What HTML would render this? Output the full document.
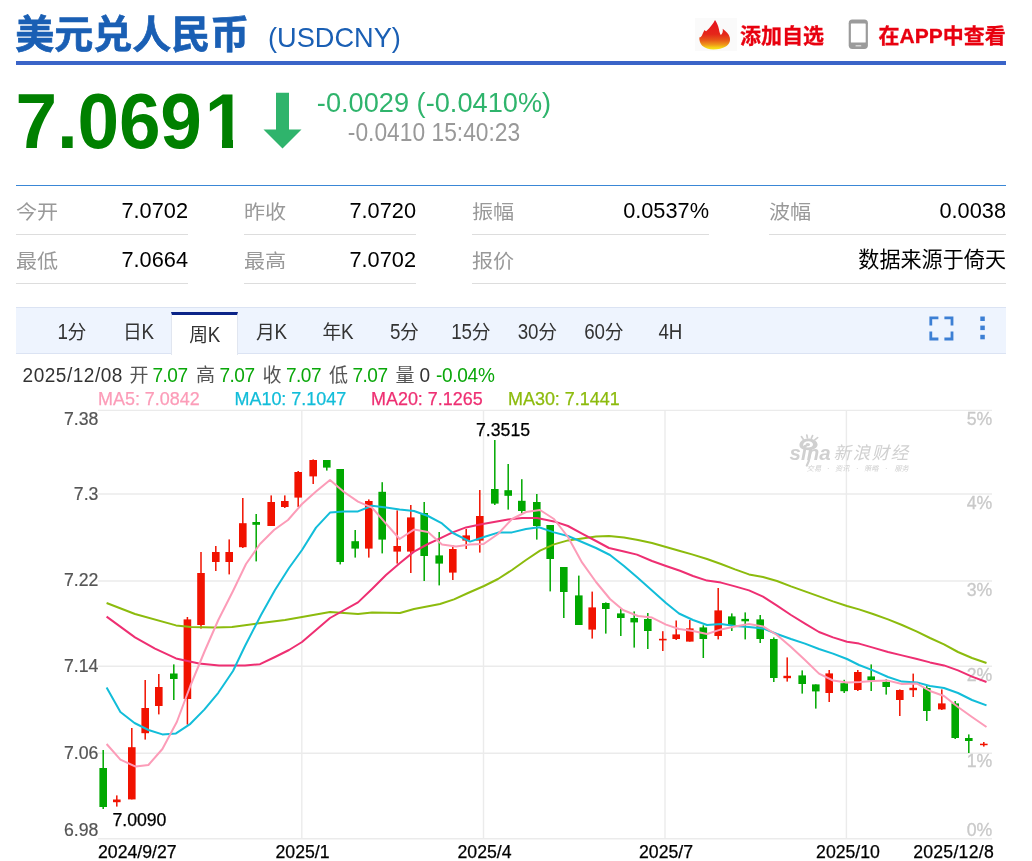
<!DOCTYPE html>
<html lang="zh-CN">
<head>
<meta charset="utf-8">
<title>美元兑人民币 (USDCNY)</title>
<style>
*{box-sizing:border-box;margin:0;padding:0}
html,body{width:1032px;height:861px;background:#fff;overflow:hidden}
body{position:relative;font-family:"Liberation Sans","Noto Sans CJK SC",sans-serif;color:#333}
.abs{position:absolute;white-space:nowrap}
.hd{position:absolute;left:16px;top:0;width:990px;height:65px;border-bottom:4px solid #3a64c8}
.title{left:15.3px;top:6.6px;font-size:39px;line-height:56px;font-weight:bold;color:#1a5fb4;-webkit-text-stroke:0.7px #1a5fb4}
.code{left:268px;top:18px;font-size:27.2px;line-height:40px;color:#1a5fb4}
.lnk{font-size:21px;line-height:30px;font-weight:bold;color:#e8000f;top:20.7px;-webkit-text-stroke:0.3px #e8000f}
.price{left:15.5px;top:79.5px;font-size:74.8px;line-height:84px;font-weight:bold;color:#008000;letter-spacing:-0.2px;transform:scaleY(1.036);transform-origin:0 69px}
.chg{left:284px;width:300px;text-align:center}
.chg1{top:86px;font-size:27.2px;line-height:32px;color:#2fb46c;transform:translateY(0.9px) scaleY(1.03);transform-origin:50% 25px}
.chg2{top:118.5px;font-size:22.8px;line-height:28px;color:#999;transform:scaleY(1.1);transform-origin:50% 22px}
.stats{position:absolute;left:16px;top:185px;width:990px;height:99px;border-top:1.4px solid #3a87d6}
.cell{position:absolute;height:49px;border-bottom:1.4px solid #ddd;font-size:21.76px;line-height:49px}
.cell .k,.cell .c{font-size:21.1px}
.cell .k{position:absolute;left:0;top:0.5px;color:#999;transform:scaleY(0.93);transform-origin:0 25px}
.cell .v{position:absolute;right:0;top:0;color:#000}
.tabs{position:absolute;left:16px;top:307px;width:990px;height:47px;background:#eef4fe;border-top:1px solid #dbe3f3;border-bottom:1px solid #dbe3f3}
.tab{position:absolute;top:0;width:66.5px;height:45px;text-align:center;font-size:18.8px;line-height:49px;color:#333;letter-spacing:-0.3px}
.tab b{display:inline-block;font-weight:normal;transform:scaleY(1.13);transform-origin:50% 31.5px}
.tab.on b{transform-origin:50% 28px}
.tab.on{top:4px;height:43px;width:67px;background:#fff;border-top:3.2px solid #0b2488;border-left:1px solid #e1e6f0;border-right:1px solid #e1e6f0;line-height:41.6px}
.info{font-size:19.04px;line-height:24px;top:363.5px;color:#555}
.info.g{color:#0aa70a}
.info.g,.info.d{transform:scaleY(1.09);transform-origin:0 18.5px}
.info.c{top:364.2px}
.info.d{color:#333}
.ma{font-size:17.95px;line-height:20px;top:388.5px;-webkit-text-stroke:0.25px currentColor}
.chart{position:absolute;left:0;top:0}
</style>
</head>
<body>
<div class="hd"></div>
<h1 class="abs title">美元兑人民币</h1>
<span class="abs code">(USDCNY)</span>
<svg class="abs" style="left:695px;top:18px" width="42" height="33" viewBox="0 0 42 33">
<defs><linearGradient id="fl" x1="0" y1="0" x2="0" y2="1"><stop offset="0" stop-color="#e6101e"/><stop offset="0.48" stop-color="#e5261a"/><stop offset="0.68" stop-color="#e75818"/><stop offset="0.84" stop-color="#f09a1a"/><stop offset="0.94" stop-color="#f5d616"/><stop offset="1" stop-color="#f7e21c"/></linearGradient></defs>
<rect x="0" y="0" width="42" height="33" fill="#fafafa"/>
<path d="M20,2 C21.800,4.500 23.200,7.500 23.900,11 C24.300,13.200 24.800,15.400 25.800,17 C27.400,16 28.200,13.600 27.700,10.800 C30.800,13.200 34.200,16.200 34.800,19.500 C35.200,21.500 35,23.200 34.400,24.600 C33.600,26.400 32.400,27.600 30.800,28.600 C27.600,30.600 23,31.600 18.300,31.600 C14,31.600 9.800,30.200 7.200,27.800 C5.200,25.800 4.200,22.800 4.300,19.600 C5.500,19.300 6.200,18.700 6.800,17.800 C7.700,15.800 8.500,13.800 9.500,12 C10,12.600 10.500,13 11.100,13.200 C12.200,12.300 13.200,11.300 14.200,10.300 C16.400,7.800 18.600,5 20,2 Z" fill="url(#fl)"/>
</svg>
<a class="abs lnk" style="left:740px">添加自选</a>
<svg class="abs" style="left:847px;top:18px" width="23" height="33" viewBox="0 0 23 33">
<rect x="1.700" y="1.600" width="19.200" height="29.300" rx="3.600" ry="3.600" fill="#9b9b9b"/>
<rect x="3.900" y="5.400" width="14.800" height="19.100" rx="0.600" fill="#fff"/>
<rect x="8.500" y="27" width="5.800" height="1.600" rx="0.600" fill="#d4d4d4"/>
</svg>
<a class="abs lnk" style="left:878.5px">在APP中查看</a>

<div class="abs price">7.069<span style="margin-left:3px">1</span></div>
<i class="abs" style="left:200px;top:139.2px;width:22px;height:11px;background:#fff"></i><i class="abs" style="left:233.3px;top:139.2px;width:14px;height:11px;background:#fff"></i>
<svg class="abs" style="left:262px;top:91.5px" width="41" height="58" viewBox="0 0 41 58">
<path d="M14,0.700 H27 V37.500 H39.500 L20.500,56.600 L1.500,37.500 H14 Z" fill="#2fb46c"/>
</svg>
<div class="abs chg chg1">-0.0029 (-0.0410%)</div>
<div class="abs chg chg2">-0.0410 15:40:23</div>

<div class="stats">
<div class="cell" style="left:0;top:0;width:172px"><span class="k">今开</span><span class="v">7.0702</span></div>
<div class="cell" style="left:228px;top:0;width:172px"><span class="k">昨收</span><span class="v">7.0720</span></div>
<div class="cell" style="left:456px;top:0;width:237px"><span class="k">振幅</span><span class="v">0.0537%</span></div>
<div class="cell" style="left:753px;top:0;width:237px"><span class="k">波幅</span><span class="v">0.0038</span></div>
<div class="cell" style="left:0;top:49px;width:172px"><span class="k">最低</span><span class="v">7.0664</span></div>
<div class="cell" style="left:228px;top:49px;width:172px"><span class="k">最高</span><span class="v">7.0702</span></div>
<div class="cell" style="left:456px;top:49px;width:534px"><span class="k">报价</span><span class="v c">数据来源于倚天</span></div>
</div>

<div class="tabs">
<div class="tab" style="left:22.5px"><b>1</b>分</div>
<div class="tab" style="left:89px">日<b>K</b></div>
<div class="tab on" style="left:155px">周<b>K</b></div>
<div class="tab" style="left:222px">月<b>K</b></div>
<div class="tab" style="left:288.5px">年<b>K</b></div>
<div class="tab" style="left:355px"><b>5</b>分</div>
<div class="tab" style="left:421.5px"><b>15</b>分</div>
<div class="tab" style="left:488px"><b>30</b>分</div>
<div class="tab" style="left:554.5px"><b>60</b>分</div>
<div class="tab" style="left:621px"><b>4H</b></div>
<svg class="abs" style="left:913px;top:8.4px" width="60" height="26" viewBox="0 0 60 26">
<g fill="none" stroke="#3c7fd4" stroke-width="2.8">
<path d="M1.800,9.400 V1.800 H9.400"/><path d="M15.400,1.800 H23 V9.400"/><path d="M23,15.400 V23 H15.400"/><path d="M9.400,23 H1.800 V15.400"/>
</g>
<g fill="#3c7fd4"><rect x="51.300" y="0.500" width="4.500" height="4.500"/><rect x="51.300" y="9.600" width="4.500" height="4.500"/><rect x="51.300" y="18.800" width="4.500" height="4.500"/></g>
</svg>
</div>

<span class="abs info d" style="left:22.6px;letter-spacing:0.5px">2025/12/08</span>
<span class="abs info c" style="left:129.5px">开</span><span class="abs info g" style="left:152.5px;letter-spacing:-0.5px">7.07</span>
<span class="abs info c" style="left:196px">高</span><span class="abs info g" style="left:219.5px;letter-spacing:-0.5px">7.07</span>
<span class="abs info c" style="left:262.5px">收</span><span class="abs info g" style="left:286px;letter-spacing:-0.5px">7.07</span>
<span class="abs info c" style="left:329px">低</span><span class="abs info g" style="left:352.5px;letter-spacing:-0.5px">7.07</span>
<span class="abs info c" style="left:395.5px">量</span><span class="abs info d" style="left:419.5px">0</span>
<span class="abs info g" style="left:436px;letter-spacing:-0.3px">-0.04%</span>

<span class="abs ma" style="left:98px;color:#fc9cb8">MA5: 7.0842</span>
<span class="abs ma" style="left:234.5px;color:#12bdd9">MA10: 7.1047</span>
<span class="abs ma" style="left:371px;color:#ee2f72">MA20: 7.1265</span>
<span class="abs ma" style="left:508px;color:#8cbb0d">MA30: 7.1441</span>

<svg class="chart" width="1032" height="861" viewBox="0 0 1032 861">
<g stroke="#ebebeb" stroke-width="1.4" fill="none">
<line x1="98" y1="410.35" x2="992" y2="410.35"/>
<line x1="98" y1="494.0" x2="992" y2="494.0"/>
<line x1="98" y1="581.0" x2="992" y2="581.0"/>
<line x1="98" y1="666.3" x2="992" y2="666.3"/>
<line x1="98" y1="753.3" x2="992" y2="753.3"/>
<line x1="98" y1="838.7" x2="992" y2="838.7"/>
<line x1="301.8" y1="410.3" x2="301.8" y2="838.7"/>
<line x1="483.5" y1="410.3" x2="483.5" y2="838.7"/>
<line x1="665.0" y1="410.3" x2="665.0" y2="838.7"/>
<line x1="846.4" y1="410.3" x2="846.4" y2="838.7"/>
</g>
<g class="wm" fill="#d0d0d0"><g transform="translate(798,435)"><path d="M10.2,3.4 C15.4,3.4 19.6,6 19.6,9.6 C19.6,13 15.6,15.2 10.4,15.2 C5.2,15.2 1.4,13.4 1.4,10 C1.4,6.4 5.2,3.4 10.2,3.4 Z M10.4,6.2 C7.4,6.2 5.2,7.8 5.2,9.8 C5.2,11.6 7.2,12.6 10,12.600 C12.800,12.600 15,11.400 15,9.600 C15,7.600 13,6.200 10.400,6.200 Z" fill-rule="evenodd"/><ellipse cx="9.8" cy="9.6" rx="2.3" ry="1.7"/><path d="M5.4,4.4 L3.4,1.6 M9.4,3 L8.8,0 M13.4,3.2 L14.6,0.6 M16.8,4.8 L19.6,2.6" stroke="#d0d0d0" stroke-width="1.7" fill="none" stroke-linecap="round"/><path d="M13.2,15 L10.6,26.500 L8.800,30.600" stroke="#d0d0d0" stroke-width="2.2" fill="none" stroke-linecap="round"/></g><text x="789.6" y="460" font-family="'Liberation Sans',sans-serif" font-size="20" font-weight="bold" font-style="italic" textLength="41" lengthAdjust="spacingAndGlyphs">sina</text><text x="833.6" y="459.4" font-family="'Liberation Sans','Noto Sans CJK SC',sans-serif" font-size="17.4" font-style="italic" letter-spacing="1.7">新浪财经</text><g font-family="'Liberation Sans','Noto Sans CJK SC',sans-serif" font-size="7.2" font-style="italic"><text x="806.8" y="470.6">交易</text><text x="827" y="470.6">·</text><text x="835" y="470.6">资讯</text><text x="856" y="470.6">·</text><text x="864" y="470.6">策略</text><text x="885" y="470.6">·</text><text x="894.4" y="470.6">服务</text></g></g>
<g font-family="'Liberation Sans',sans-serif" font-size="17.68">
<g fill="#555" stroke="#555" stroke-width="0.2" text-anchor="end">
<text x="98.4" y="425.0">7.38</text>
<text x="98.4" y="500.0">7.3</text>
<text x="98.4" y="586.2">7.22</text>
<text x="98.4" y="672.0">7.14</text>
<text x="98.4" y="759.0">7.06</text>
<text x="98.4" y="836.3">6.98</text>
</g>
<g fill="#c9c9c9" stroke="#c9c9c9" stroke-width="0.3" text-anchor="end">
<text x="992.2" y="425.1">5%</text>
<text x="992.2" y="508.9">4%</text>
<text x="992.2" y="595.9">3%</text>
<text x="992.2" y="681.3">2%</text>
<text x="992.2" y="767.2">1%</text>
<text x="992.2" y="835.6">0%</text>
</g>
<g fill="#000" stroke="#000" stroke-width="0.25">
<text x="98" y="858.4">2024/9/27</text>
<text x="302.5" y="858.4" text-anchor="middle">2025/1</text>
<text x="484.5" y="858.4" text-anchor="middle">2025/4</text>
<text x="666" y="858.4" text-anchor="middle">2025/7</text>
<text x="848" y="858.4" text-anchor="middle">2025/10</text>
<text x="994" y="858.4" text-anchor="end" letter-spacing="0.25">2025/12/8</text>
<text x="476" y="435.8">7.3515</text>
<text x="112.4" y="826">7.0090</text>
</g>
</g>
<g fill="#00a800"><rect x="102.45" y="750.0" width="1.5" height="59.0"/><rect x="99.40" y="768.0" width="7.6" height="39.0"/></g>
<g fill="#f11200"><rect x="116.05" y="795.4" width="1.5" height="11.2"/><rect x="113.00" y="799.5" width="7.6" height="2.7"/></g>
<g fill="#f11200"><rect x="131.05" y="728.0" width="1.5" height="71.4"/><rect x="128.00" y="747.2" width="7.6" height="52.2"/></g>
<g fill="#f11200"><rect x="144.45" y="680.0" width="1.5" height="59.6"/><rect x="141.40" y="708.0" width="7.6" height="25.2"/></g>
<g fill="#f11200"><rect x="158.05" y="674.0" width="1.5" height="40.4"/><rect x="155.00" y="687.0" width="7.6" height="19.0"/></g>
<g fill="#00a800"><rect x="173.05" y="664.4" width="1.5" height="35.6"/><rect x="170.00" y="673.5" width="7.6" height="5.5"/></g>
<g fill="#f11200"><rect x="186.65" y="617.0" width="1.5" height="107.6"/><rect x="183.60" y="619.4" width="7.6" height="79.6"/></g>
<g fill="#f11200"><rect x="200.25" y="552.0" width="1.5" height="76.6"/><rect x="197.20" y="573.0" width="7.6" height="52.0"/></g>
<g fill="#f11200"><rect x="215.05" y="546.0" width="1.5" height="25.0"/><rect x="212.00" y="552.0" width="7.6" height="10.0"/></g>
<g fill="#f11200"><rect x="228.45" y="539.4" width="1.5" height="35.0"/><rect x="225.40" y="552.0" width="7.6" height="10.0"/></g>
<g fill="#f11200"><rect x="242.05" y="498.0" width="1.5" height="50.0"/><rect x="239.00" y="523.2" width="7.6" height="24.0"/></g>
<g fill="#00a800"><rect x="255.45" y="514.0" width="1.5" height="47.4"/><rect x="252.40" y="522.0" width="7.6" height="2.8"/></g>
<g fill="#f11200"><rect x="270.45" y="495.4" width="1.5" height="30.6"/><rect x="267.40" y="502.0" width="7.6" height="24.0"/></g>
<g fill="#f11200"><rect x="284.05" y="495.4" width="1.5" height="12.6"/><rect x="281.00" y="501.0" width="7.6" height="6.0"/></g>
<g fill="#f11200"><rect x="297.45" y="471.0" width="1.5" height="36.0"/><rect x="294.40" y="472.0" width="7.6" height="25.6"/></g>
<g fill="#f11200"><rect x="312.45" y="459.4" width="1.5" height="24.6"/><rect x="309.40" y="460.0" width="7.6" height="16.4"/></g>
<g fill="#00a800"><rect x="326.05" y="460.0" width="1.5" height="10.6"/><rect x="323.00" y="460.0" width="7.6" height="7.6"/></g>
<g fill="#00a800"><rect x="339.45" y="469.0" width="1.5" height="95.4"/><rect x="336.40" y="469.0" width="7.6" height="93.0"/></g>
<g fill="#00a800"><rect x="354.45" y="530.0" width="1.5" height="27.6"/><rect x="351.40" y="541.2" width="7.6" height="7.4"/></g>
<g fill="#f11200"><rect x="368.05" y="499.4" width="1.5" height="58.2"/><rect x="365.00" y="501.0" width="7.6" height="47.6"/></g>
<g fill="#00a800"><rect x="381.45" y="482.2" width="1.5" height="71.2"/><rect x="378.40" y="491.8" width="7.6" height="47.8"/></g>
<g fill="#f11200"><rect x="396.45" y="510.4" width="1.5" height="53.2"/><rect x="393.40" y="546.0" width="7.6" height="5.6"/></g>
<g fill="#f11200"><rect x="410.05" y="505.0" width="1.5" height="68.0"/><rect x="407.00" y="517.4" width="7.6" height="34.2"/></g>
<g fill="#00a800"><rect x="423.45" y="502.0" width="1.5" height="79.0"/><rect x="420.40" y="513.0" width="7.6" height="43.0"/></g>
<g fill="#00a800"><rect x="438.45" y="532.0" width="1.5" height="53.4"/><rect x="435.40" y="555.4" width="7.6" height="8.2"/></g>
<g fill="#f11200"><rect x="452.05" y="545.0" width="1.5" height="35.0"/><rect x="449.00" y="549.0" width="7.6" height="23.6"/></g>
<g fill="#f11200"><rect x="465.45" y="529.0" width="1.5" height="20.0"/><rect x="462.40" y="535.4" width="7.6" height="5.2"/></g>
<g fill="#f11200"><rect x="479.05" y="490.0" width="1.5" height="62.6"/><rect x="476.00" y="516.0" width="7.6" height="24.6"/></g>
<g fill="#00a800"><rect x="494.05" y="440.0" width="1.5" height="65.0"/><rect x="491.00" y="489.0" width="7.6" height="14.6"/></g>
<g fill="#00a800"><rect x="507.45" y="464.0" width="1.5" height="45.6"/><rect x="504.40" y="490.2" width="7.6" height="5.6"/></g>
<g fill="#00a800"><rect x="521.05" y="479.2" width="1.5" height="34.2"/><rect x="518.00" y="500.8" width="7.6" height="10.2"/></g>
<g fill="#00a800"><rect x="536.05" y="494.0" width="1.5" height="45.6"/><rect x="533.00" y="502.0" width="7.6" height="24.0"/></g>
<g fill="#00a800"><rect x="549.45" y="525.0" width="1.5" height="66.4"/><rect x="546.40" y="525.0" width="7.6" height="34.0"/></g>
<g fill="#00a800"><rect x="563.05" y="567.0" width="1.5" height="51.0"/><rect x="560.00" y="567.0" width="7.6" height="25.0"/></g>
<g fill="#00a800"><rect x="578.05" y="575.6" width="1.5" height="49.4"/><rect x="575.00" y="595.4" width="7.6" height="29.6"/></g>
<g fill="#f11200"><rect x="591.45" y="591.6" width="1.5" height="47.0"/><rect x="588.40" y="607.4" width="7.6" height="22.2"/></g>
<g fill="#00a800"><rect x="605.05" y="602.4" width="1.5" height="31.2"/><rect x="602.00" y="603.0" width="7.6" height="6.0"/></g>
<g fill="#00a800"><rect x="620.05" y="609.0" width="1.5" height="27.0"/><rect x="617.00" y="613.4" width="7.6" height="4.6"/></g>
<g fill="#00a800"><rect x="633.45" y="611.4" width="1.5" height="36.2"/><rect x="630.40" y="618.0" width="7.6" height="4.4"/></g>
<g fill="#00a800"><rect x="647.05" y="613.0" width="1.5" height="36.0"/><rect x="644.00" y="619.0" width="7.6" height="12.0"/></g>
<g fill="#f11200"><rect x="662.05" y="631.2" width="1.5" height="19.8"/><rect x="659.00" y="638.8" width="7.6" height="1.6"/></g>
<g fill="#f11200"><rect x="675.45" y="620.5" width="1.5" height="19.5"/><rect x="672.40" y="634.4" width="7.6" height="4.6"/></g>
<g fill="#f11200"><rect x="689.05" y="620.0" width="1.5" height="21.6"/><rect x="686.00" y="628.4" width="7.6" height="13.2"/></g>
<g fill="#00a800"><rect x="702.55" y="625.3" width="1.5" height="32.7"/><rect x="699.50" y="627.4" width="7.6" height="11.6"/></g>
<g fill="#f11200"><rect x="717.45" y="588.0" width="1.5" height="51.4"/><rect x="714.40" y="610.4" width="7.6" height="25.6"/></g>
<g fill="#00a800"><rect x="731.05" y="613.4" width="1.5" height="17.6"/><rect x="728.00" y="616.4" width="7.6" height="9.2"/></g>
<g fill="#00a800"><rect x="744.45" y="612.4" width="1.5" height="27.0"/><rect x="741.40" y="618.9" width="7.6" height="2.4"/></g>
<g fill="#00a800"><rect x="759.45" y="615.0" width="1.5" height="28.0"/><rect x="756.40" y="619.4" width="7.6" height="19.6"/></g>
<g fill="#00a800"><rect x="773.05" y="637.4" width="1.5" height="44.6"/><rect x="770.00" y="639.0" width="7.6" height="39.0"/></g>
<g fill="#f11200"><rect x="786.45" y="657.4" width="1.5" height="24.2"/><rect x="783.40" y="675.8" width="7.6" height="2.4"/></g>
<g fill="#00a800"><rect x="801.45" y="670.4" width="1.5" height="23.2"/><rect x="798.40" y="675.4" width="7.6" height="8.6"/></g>
<g fill="#00a800"><rect x="815.05" y="684.4" width="1.5" height="24.2"/><rect x="812.00" y="684.4" width="7.6" height="7.0"/></g>
<g fill="#f11200"><rect x="828.45" y="670.0" width="1.5" height="32.0"/><rect x="825.40" y="673.4" width="7.6" height="19.6"/></g>
<g fill="#00a800"><rect x="843.45" y="679.8" width="1.5" height="13.2"/><rect x="840.40" y="683.2" width="7.6" height="8.0"/></g>
<g fill="#f11200"><rect x="857.05" y="670.0" width="1.5" height="21.0"/><rect x="854.00" y="672.0" width="7.6" height="18.0"/></g>
<g fill="#00a800"><rect x="870.45" y="664.4" width="1.5" height="26.6"/><rect x="867.40" y="676.4" width="7.6" height="4.0"/></g>
<g fill="#00a800"><rect x="885.45" y="679.4" width="1.5" height="15.2"/><rect x="882.40" y="682.0" width="7.6" height="5.0"/></g>
<g fill="#f11200"><rect x="899.05" y="689.4" width="1.5" height="26.6"/><rect x="896.00" y="690.0" width="7.6" height="10.0"/></g>
<g fill="#f11200"><rect x="912.45" y="673.6" width="1.5" height="23.4"/><rect x="909.40" y="687.8" width="7.6" height="2.4"/></g>
<g fill="#00a800"><rect x="926.05" y="685.0" width="1.5" height="36.0"/><rect x="923.00" y="688.0" width="7.6" height="23.0"/></g>
<g fill="#f11200"><rect x="941.05" y="689.4" width="1.5" height="20.6"/><rect x="938.00" y="703.4" width="7.6" height="6.0"/></g>
<g fill="#00a800"><rect x="954.45" y="701.0" width="1.5" height="38.0"/><rect x="951.40" y="703.4" width="7.6" height="34.6"/></g>
<g fill="#00a800"><rect x="968.05" y="734.4" width="1.5" height="18.6"/><rect x="965.00" y="738.0" width="7.6" height="3.0"/></g>
<g fill="#f11200"><rect x="983.05" y="742.0" width="1.5" height="4.6"/><rect x="980.00" y="743.7" width="7.6" height="1.5"/></g>
<polyline points="106.6,603.0 135.0,614.0 176.0,625.4 191.0,627.0 215.0,627.4 232.0,627.0 257.0,623.6 285.0,620.0 302.0,617.0 330.0,612.0 358.0,614.0 372.0,612.4 400.0,613.0 414.0,609.0 440.0,604.0 454.0,599.4 468.0,593.0 484.0,586.0 498.0,579.0 512.0,570.0 526.0,560.0 540.0,550.6 554.0,544.4 568.0,540.4 582.0,538.4 596.0,536.4 609.0,536.0 624.0,537.6 638.0,540.0 652.0,543.0 666.0,547.0 680.0,551.0 692.0,554.4 707.0,559.0 721.0,564.0 735.0,569.4 749.0,574.4 763.0,577.0 777.0,581.0 791.0,586.4 805.0,591.4 819.0,596.4 833.0,601.4 847.0,606.0 859.0,609.4 873.0,614.0 888.0,619.4 902.0,625.0 917.0,631.6 930.0,638.0 944.0,644.4 958.0,652.0 972.0,658.0 986.5,663.0" fill="none" stroke="#8cbb0d" stroke-width="2" stroke-linejoin="round"/>
<polyline points="106.6,616.6 135.0,637.4 155.0,648.6 176.0,658.4 199.0,663.6 219.0,665.6 245.0,665.6 260.0,664.2 275.0,657.0 289.0,650.0 302.0,642.0 330.0,618.0 358.0,602.4 372.0,589.0 386.0,575.0 400.0,563.0 414.0,551.6 428.0,544.0 438.0,539.4 452.0,532.6 466.0,527.4 480.0,524.6 494.0,522.0 508.0,519.4 522.0,518.0 537.0,518.0 554.0,521.4 568.0,526.0 582.0,533.6 596.0,541.0 609.0,548.0 624.0,551.4 637.0,554.6 652.0,561.0 666.0,566.0 680.0,570.8 693.0,576.0 707.0,580.6 721.0,582.6 735.0,586.4 749.0,590.4 763.0,596.6 777.0,605.6 791.0,615.0 805.0,623.6 819.0,632.0 833.0,637.4 847.0,641.7 859.0,643.6 873.0,647.6 888.0,652.0 902.0,655.4 917.0,659.0 930.0,662.4 944.0,665.4 958.0,670.4 972.0,676.6 986.5,682.0" fill="none" stroke="#ee2f72" stroke-width="2" stroke-linejoin="round"/>
<polyline points="106.6,687.4 120.4,712.0 134.5,723.0 148.5,730.0 162.4,734.4 176.0,733.4 190.4,723.8 204.3,709.6 218.3,692.8 233.0,671.0 245.0,646.0 261.0,615.0 275.0,590.0 289.0,568.0 302.0,550.0 316.0,527.6 330.0,512.6 344.0,511.6 358.0,511.4 372.0,505.8 386.0,507.4 399.6,509.4 414.0,511.0 428.0,516.0 442.0,523.4 453.0,533.0 470.0,541.6 484.0,537.0 498.0,532.6 512.0,532.4 526.0,529.0 539.0,527.2 554.0,532.4 568.0,536.0 582.0,542.0 596.0,548.0 610.0,555.0 624.0,566.0 638.0,578.0 652.0,590.4 666.0,603.0 679.0,613.5 693.0,620.0 707.0,625.0 721.0,624.0 735.0,626.0 749.0,627.0 763.0,628.4 777.0,634.0 791.0,639.0 805.0,643.6 819.0,649.0 833.0,653.6 847.0,659.0 859.0,665.0 873.0,670.4 888.0,677.0 902.0,681.6 917.0,682.4 930.0,686.0 944.0,688.0 958.0,693.0 972.0,700.0 986.5,705.4" fill="none" stroke="#12bdd9" stroke-width="2" stroke-linejoin="round"/>
<polyline points="106.6,744.0 120.4,759.6 135.6,766.6 148.4,765.0 162.4,749.0 176.8,722.0 190.3,686.0 204.3,652.0 218.3,620.0 233.0,591.0 246.0,564.0 260.0,544.0 274.0,530.0 288.0,520.0 302.0,504.0 316.0,491.6 330.0,480.0 344.0,492.0 358.0,501.6 372.0,507.6 386.0,523.6 399.6,539.0 414.0,529.6 428.0,532.0 442.0,544.4 456.0,546.4 470.0,544.4 483.6,544.0 498.0,534.0 512.0,519.0 526.0,512.0 540.0,510.0 554.0,519.0 568.0,537.0 582.0,562.4 596.0,582.0 610.0,599.0 623.0,610.0 638.0,616.0 652.0,617.6 666.0,624.6 679.0,629.0 693.0,631.0 707.0,634.0 721.0,629.4 735.0,626.4 749.0,624.0 763.0,626.4 777.0,635.0 791.0,647.0 805.0,660.0 819.0,673.6 833.0,680.5 847.0,682.6 860.0,682.0 873.0,681.0 888.0,680.6 902.0,684.0 917.0,683.6 930.0,691.0 944.0,696.0 958.0,707.0 972.0,717.0 986.5,727.0" fill="none" stroke="#fc9cb8" stroke-width="2" stroke-linejoin="round"/>
</svg>
</body>
</html>
